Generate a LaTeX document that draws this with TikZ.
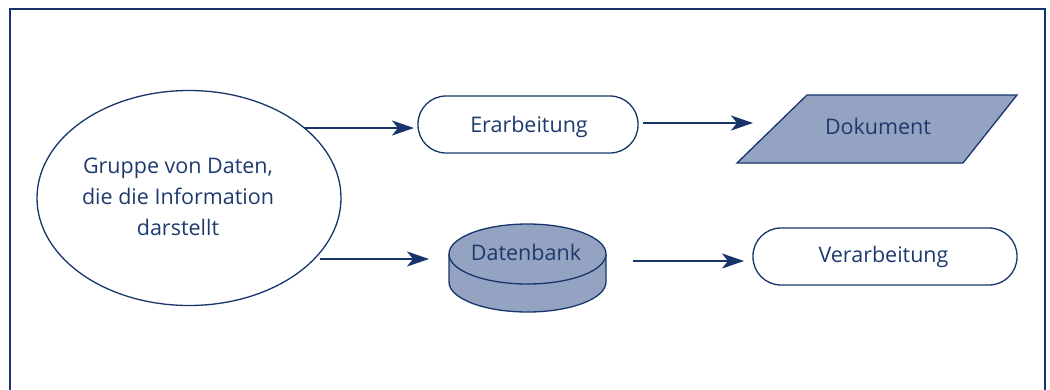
\documentclass[tikz,border=0pt]{standalone}
\usepackage{fontspec}
\setmainfont{Open Sans}[Ligatures={NoCommon}]
\usetikzlibrary{shapes.geometric,arrows.meta}
\definecolor{navy}{HTML}{17356B}
\definecolor{txt}{HTML}{1D3A6E}
\definecolor{fillb}{HTML}{95A3C2}
\tikzset{
  ln/.style={draw=navy,line width=1.3pt},
  lbl/.style={text=txt,font=\fontsize{21.5}{31}\selectfont,align=center,inner sep=0pt,anchor=base},
  arr/.style={draw=navy,line width=2.2pt,-{Stealth[length=22pt,width=15pt,inset=6pt]}},
  roundbox/.style={ln,rounded corners=28pt,minimum width=220pt,minimum height=57pt,inner sep=0pt}
}
\begin{document}
\begin{tikzpicture}[x=1pt,y=-1pt]
\useasboundingbox (0,0) rectangle (1050,389);
\draw[navy,line width=1.5pt] (10,400) -- (10,9) -- (1045,9) -- (1045,400);
% ellipse
\node[ln,ellipse,minimum width=304pt,minimum height=215pt,inner sep=0pt] (data) at (189,198) {};
\node[lbl] (datat) at (178,235) {Gruppe von Daten,\\die die Information\\darstellt};
% Erarbeitung
\node[roundbox] (er) at (528,124.5) {};
\node[lbl] (ert) at (529,132.3) {Erarbeitung};
% Dokument
\draw[ln,fill=fillb] (807,95) -- (1017,95) -- (963,163) -- (737,163) -- cycle;
\node[lbl] (dok) at (878,134) {Dokument};
% Datenbank
\draw[ln,fill=fillb] (449,254) -- (449,282) arc(180:0:78.5 and 30) -- (606,254);
\draw[ln,fill=fillb] (527.5,254) ellipse (78.5 and 30);
\node[lbl] (db) at (526,260.7) {Datenbank};
% Verarbeitung
\node[roundbox,minimum width=264pt] (ve) at (885,256.5) {};
\node[lbl] (vet) at (883.5,262.5) {Verarbeitung};
% arrows
\coordinate (a1s) at (304,128);
\coordinate (a1e) at (414,128);
\coordinate (a2s) at (643,123);
\coordinate (a2e) at (753,123);
\coordinate (a3s) at (320,259);
\coordinate (a3e) at (429,259);
\coordinate (a4s) at (633,261);
\coordinate (a4e) at (744,261);
\draw[arr] (a1s) -- (a1e);
\draw[arr] (a2s) -- (a2e);
\draw[arr] (a3s) -- (a3e);
\draw[arr] (a4s) -- (a4e);
\end{tikzpicture}
\end{document}
